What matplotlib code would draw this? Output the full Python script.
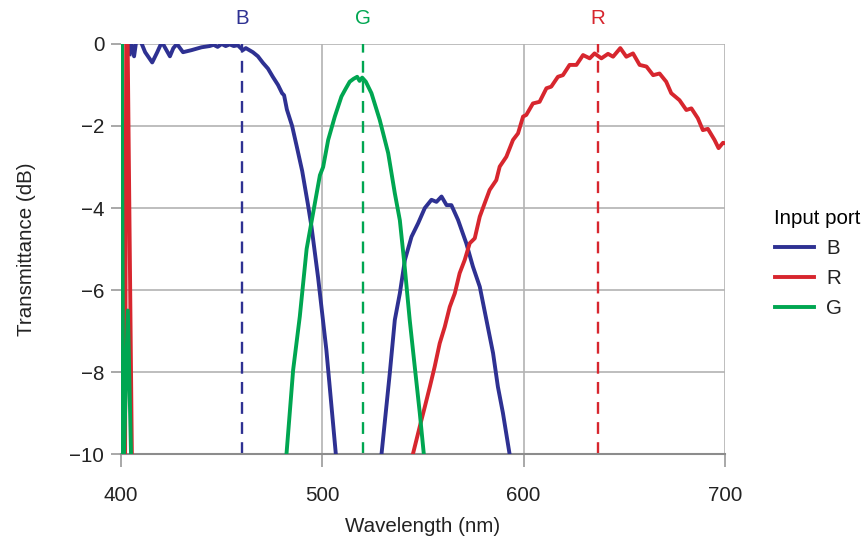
import numpy as np
import matplotlib
matplotlib.use("Agg")
from matplotlib import pyplot as plt

# wavelength (nm) / transmittance (dB) per input port; NaN splits segments
b_wl = [404.3, 405.0, 406.5, 407.5, 409.5, 412.0, 415.5, 418.0, 420.3, 422.0,
        424.3, 426.0, 427.8, 430.8, 435.0, 440.0, 444.0, 446.0, 448.0, 450.0,
        452.0, 454.0, 456.0, 458.0, 460.5, 462.0, 465.5, 468.0, 470.5, 473.0,
        475.4, 478.0, 480.0, 481.0, 482.4, 485.0, 487.3, 490.0, 492.8, 494.6,
        497.9, 502.0, 506.7, 509.0, 518.0, 527.0, 529.4, 533.5, 536.0, 538.5,
        541.0, 544.3, 547.6, 550.9, 554.2, 556.7, 559.2, 561.7, 564.1, 567.4,
        571.5, 574.8, 578.2, 581.5, 584.8, 587.2, 589.7, 593.0, 595.0]
b_db = [-0.25, 0.05, -0.3, 0.05, 0.1, -0.2, -0.45, -0.2, 0.05, -0.1,
        -0.3, -0.1, 0.0, -0.2, -0.15, -0.08, -0.05, -0.02, -0.07, 0.0,
        -0.05, -0.01, -0.05, -0.03, -0.15, -0.1, -0.2, -0.3, -0.46, -0.6,
        -0.8, -1.0, -1.2, -1.25, -1.6, -2.0, -2.5, -3.1, -3.9, -4.45,
        -5.7, -7.46, -10.0, -11.0, -12.0, -11.0, -10.0, -8.03, -6.73, -6.08,
        -5.27, -4.7, -4.37, -4.0, -3.8, -3.85, -3.72, -3.93, -3.93, -4.29,
        -4.86, -5.43, -5.92, -6.73, -7.54, -8.36, -9.0, -10.0, -10.8]

r_wl = [402.0, 402.6, 403.2, 405.5, np.nan,
        543.0, 545.0, 548.4, 550.9, 553.4, 555.8, 558.3, 560.8, 563.3, 565.8,
        568.2, 570.7, 573.2, 575.7, 578.2, 580.6, 583.1, 586.4, 588.1, 591.4,
        594.7, 597.2, 599.7, 601.3, 604.6, 607.9, 611.3, 613.7, 617.0, 619.5,
        622.8, 626.2, 629.5, 632.8, 635.2, 638.6, 641.9, 644.4, 648.0, 651.0,
        654.3, 657.6, 661.0, 664.3, 667.5, 670.8, 673.3, 677.4, 680.8, 683.3,
        686.5, 689.0, 691.5, 694.8, 696.8, 699.0, 700.0]
r_db = [-10.5, 0.5, 0.5, -10.5, np.nan,
        -10.6, -10.0, -9.33, -8.85, -8.36, -7.87, -7.3, -6.9, -6.41, -6.08,
        -5.59, -5.27, -4.86, -4.74, -4.21, -3.89, -3.56, -3.32, -2.99, -2.75,
        -2.34, -2.18, -1.77, -1.73, -1.45, -1.41, -1.08, -1.04, -0.8, -0.76,
        -0.51, -0.51, -0.27, -0.35, -0.23, -0.35, -0.24, -0.31, -0.1, -0.31,
        -0.23, -0.51, -0.55, -0.76, -0.72, -0.92, -1.2, -1.37, -1.61, -1.57,
        -1.81, -2.1, -2.07, -2.34, -2.54, -2.41, -2.42]

g_wl = [400.0, 400.3, 401.2, 403.4, 405.2, np.nan,
        481.5, 482.2, 485.5, 488.8, 492.2, 495.5, 498.8, 500.4, 502.9, 506.2,
        509.5, 511.5, 513.6, 515.5, 517.3, 518.5, 519.8, 521.6, 524.4, 528.5,
        532.7, 536.0, 538.5, 540.9, 543.4, 545.9, 548.4, 550.4, 551.0]
g_db = [-10.5, 0.5, -10.5, -6.5, -10.5, np.nan,
        -10.6, -10.0, -7.95, -6.65, -5.0, -4.1, -3.2, -3.0, -2.34, -1.77,
        -1.28, -1.1, -0.92, -0.85, -0.8, -0.9, -0.82, -0.92, -1.2, -1.85,
        -2.66, -3.64, -4.3, -5.43, -6.73, -7.87, -9.0, -10.0, -10.6]

ports = ["B", "R", "G"]
colors = {"B": "#2e3192", "R": "#d7262e", "G": "#00a651"}
centers = {"B": 460, "G": 520, "R": 637}

plt.rcParams['font.family'] = ['Liberation Sans', 'DejaVu Sans']
FS = 14.8

fig = plt.figure(figsize=(8.66, 5.41), dpi=100)
ax = fig.add_axes([121 / 866, 1 - 454 / 541, 604 / 866, 410 / 541])

grid_c = "#b3b3b3"
for y in range(-8, 1, 2):
    ax.axhline(y, color=grid_c, lw=1.2, zorder=0)
for x in (500, 600, 700):
    ax.axvline(x, color=grid_c, lw=1.2, zorder=0)

series = {"B": (b_wl, b_db), "R": (r_wl, r_db), "G": (g_wl, g_db)}
for p in ports:
    wl, db = series[p]
    ax.plot(wl, db, color=colors[p], lw=2.8, label=p, solid_joinstyle="round",
            zorder=3)

for p, c in centers.items():
    ax.plot([c, c], [-10, 0], color=colors[p], lw=1.7, ls=(0, (5, 3.5)),
            zorder=2)
    ax.text(c, 0.4, p, color=colors[p], fontsize=FS, ha="center",
            va="bottom")

ax.set_xlim(400, 700)
ax.set_ylim(-10, 0)
ax.set_xticks([400, 500, 600, 700])
ax.set_yticks([0, -2, -4, -6, -8, -10])
ax.set_yticklabels(["0", "\u22122", "\u22124", "\u22126", "\u22128", "\u221210"])
for s in ("top", "right", "left"):
    ax.spines[s].set_visible(False)
ax.spines["bottom"].set_color("#8c8c8c")
ax.spines["bottom"].set_linewidth(1.5)
ax.tick_params(axis="both", colors="#9a9a9a", labelcolor="#222222",
               labelsize=FS, width=1.2)
ax.tick_params(axis="x", length=9, pad=14)
ax.tick_params(axis="y", length=7, pad=5)

ax.set_xlabel("Wavelength (nm)", fontsize=FS, color="#222222", labelpad=9)
ax.set_ylabel("Transmittance (dB)", fontsize=FS, color="#222222", labelpad=24)

leg = fig.legend(loc="upper left", bbox_to_anchor=(756 / 866, 1 - 190 / 541),
                 title="Input port", frameon=False, fontsize=FS,
                 title_fontsize=FS, handlelength=1.9, labelspacing=0.55,
                 handletextpad=0.6)
leg._legend_box.align = "left"
for t in leg.get_texts():
    t.set_color("#222222")

fig.savefig("out.png", dpi=100)
